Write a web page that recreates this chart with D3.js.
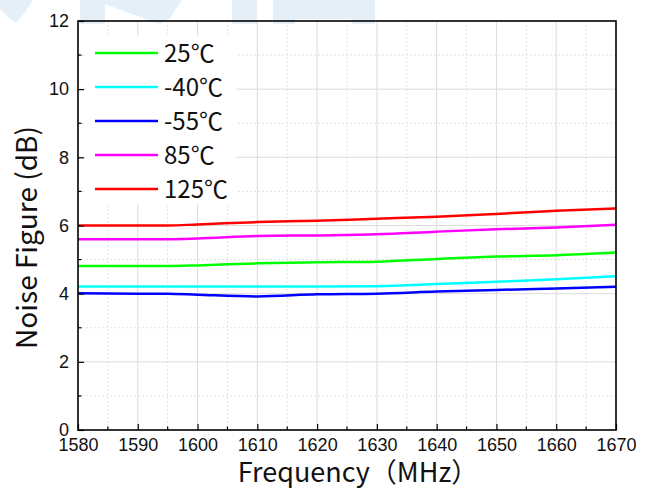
<!DOCTYPE html>
<html>
<head>
<meta charset="utf-8">
<script src="https://cdn.jsdelivr.net/npm/d3@7"></script>
<style>
  html, body { margin: 0; padding: 0; background: #fff; }
  svg { display: block; }
</style>
</head>
<body>
<svg id="chart"></svg>
<script>
// Frequency points (MHz) and noise figure (dB) per temperature
const freqs = [1580, 1590, 1595, 1600, 1610, 1620, 1630, 1640, 1650, 1660, 1670];
const nf25 = [4.81, 4.81, 4.81, 4.83, 4.89, 4.92, 4.94, 5.02, 5.09, 5.13, 5.21];
const nfMinus40 = [4.21, 4.21, 4.21, 4.21, 4.21, 4.21, 4.22, 4.28, 4.35, 4.42, 4.51];
const nfMinus55 = [4.01, 4.0, 4.0, 3.97, 3.92, 3.98, 4.0, 4.06, 4.11, 4.15, 4.2];
const nf85 = [5.6, 5.6, 5.6, 5.62, 5.69, 5.71, 5.74, 5.82, 5.89, 5.94, 6.02];
const nf125 = [6.0, 6.0, 6.0, 6.03, 6.1, 6.14, 6.2, 6.26, 6.34, 6.43, 6.5];

const seriesNames = ["25℃", "-40℃", "-55℃", "85℃", "125℃"];
const seriesValues = [nf25, nfMinus40, nfMinus55, nf85, nf125];
const seriesColors = ["#00ff00", "#00ffff", "#0000ff", "#ff00ff", "#ff0000"];

const xTicks = [1580, 1590, 1600, 1610, 1620, 1630, 1640, 1650, 1660, 1670];
const yTicks = [0, 2, 4, 6, 8, 10, 12];

const W = 652, H = 489;
const margin = {top: 21, right: 36, bottom: 59, left: 78};
const width = W - margin.left - margin.right;
const height = H - margin.top - margin.bottom;

const svg = d3.select("#chart").attr("width", W).attr("height", H);

// faint watermark at the top
const wm = svg.append("g").attr("fill", "#e4eff8");
wm.append("path").attr("d", "M0,0 L33,0 Q24,14 16,23 Q7,17 0,9 Z");
wm.append("path").attr("d", "M80,0 L182,0 L170,18 L160,24 L148,20 L105,4 L105,24 L80,24 Z");
wm.append("rect").attr("x", 232).attr("y", 0).attr("width", 25).attr("height", 24);
wm.append("path").attr("d", "M273,0 L375,0 L375,24 L352,24 L352,19 L295,19 L295,24 L273,24 Z");

const g = svg.append("g").attr("transform", `translate(${margin.left},${margin.top})`);

const x = d3.scaleLinear().domain([1580, 1670]).range([0, width]);
const y = d3.scaleLinear().domain([0, 12]).range([height, 0]);

// Grid: minor dotted, major solid
const xMinor = d3.range(1585, 1670, 10);
const yMinor = d3.range(1, 12, 2);
g.append("g").selectAll("line").data(xMinor).join("line")
  .attr("x1", d => x(d)).attr("x2", d => x(d)).attr("y1", 0).attr("y2", height)
  .attr("stroke", "#e2e2e2").attr("stroke-dasharray", "2,2");
g.append("g").selectAll("line").data(yMinor).join("line")
  .attr("y1", d => y(d)).attr("y2", d => y(d)).attr("x1", 0).attr("x2", width)
  .attr("stroke", "#e2e2e2").attr("stroke-dasharray", "2,2");
g.append("g").selectAll("line").data(xTicks.slice(1, -1)).join("line")
  .attr("x1", d => x(d)).attr("x2", d => x(d)).attr("y1", 0).attr("y2", height)
  .attr("stroke", "#dcdcdc");
g.append("g").selectAll("line").data(yTicks.slice(1, -1)).join("line")
  .attr("y1", d => y(d)).attr("y2", d => y(d)).attr("x1", 0).attr("x2", width)
  .attr("stroke", "#dcdcdc");

// Lines
const line = d3.line()
  .x((d, i) => x(freqs[i]))
  .y(d => y(d))
  .curve(d3.curveMonotoneX);

g.append("g").selectAll("path").data(seriesValues).join("path")
  .attr("d", d => line(d))
  .attr("fill", "none")
  .attr("stroke", (d, i) => seriesColors[i])
  .attr("stroke-width", 2.5);

// Legend (white box hides grid)
const legend = g.append("g").attr("transform", "translate(8,15)");
legend.append("rect").attr("x", 0).attr("y", 0).attr("width", 150).attr("height", 168).attr("fill", "#fff");
const rows = legend.selectAll("g.row").data(seriesNames).join("g")
  .attr("class", "row")
  .attr("transform", (d, i) => `translate(0,${17 + i * 34})`);
rows.append("line").attr("x1", 9).attr("x2", 72).attr("y1", 0).attr("y2", 0)
  .attr("stroke", (d, i) => seriesColors[i]).attr("stroke-width", 2.5);
rows.append("text").attr("x", 78).attr("y", 0).attr("dy", "0.36em")
  .attr("font-family", "'Noto Sans CJK SC', 'Noto Sans', sans-serif")
  .attr("font-size", 24).attr("fill", "#111")
  .text(d => d);

// Axes with inward ticks
const axisFont = "'Liberation Sans', Arial, sans-serif";
const xAxis = g.append("g").attr("transform", `translate(0,${height})`)
  .call(d3.axisBottom(x).tickValues(xTicks).tickFormat(d3.format("d")).tickSizeInner(-6).tickSizeOuter(0).tickPadding(8));
const yAxis = g.append("g")
  .call(d3.axisLeft(y).tickValues(yTicks).tickSizeInner(-6).tickSizeOuter(0).tickPadding(9));
[xAxis, yAxis].forEach(a => {
  a.select(".domain").remove();
  a.selectAll("text").attr("font-family", axisFont).attr("font-size", 18).attr("fill", "#111");
  a.selectAll(".tick line").attr("stroke", "#000").attr("stroke-width", 1.2);
});
xAxis.selectAll("text").attr("dy", "0.71em");

// minor ticks
g.append("g").selectAll("line").data(xMinor).join("line")
  .attr("x1", d => x(d)).attr("x2", d => x(d)).attr("y1", height).attr("y2", height - 3.5)
  .attr("stroke", "#000").attr("stroke-width", 1.2);
g.append("g").selectAll("line").data(yMinor).join("line")
  .attr("y1", d => y(d)).attr("y2", d => y(d)).attr("x1", 0).attr("x2", 3.5)
  .attr("stroke", "#000").attr("stroke-width", 1.2);

// Frame
g.append("rect").attr("x", 0).attr("y", 0).attr("width", width).attr("height", height)
  .attr("fill", "none").attr("stroke", "#000").attr("stroke-width", 1.6);

// Axis titles
svg.append("text")
  .attr("x", margin.left + width / 2 + 11).attr("y", 482)
  .attr("text-anchor", "middle")
  .attr("font-family", "'Noto Sans CJK SC', 'Noto Sans', sans-serif")
  .attr("font-size", 27).attr("fill", "#111")
  .text("Frequency（MHz）");

svg.append("text")
  .attr("transform", `translate(37,${margin.top + height / 2 + 12}) rotate(-90)`)
  .attr("text-anchor", "middle")
  .attr("font-family", "'Noto Sans CJK SC', 'Noto Sans', sans-serif")
  .attr("font-size", 28).attr("fill", "#111")
  .text("Noise Figure (dB)");
</script>
</body>
</html>
